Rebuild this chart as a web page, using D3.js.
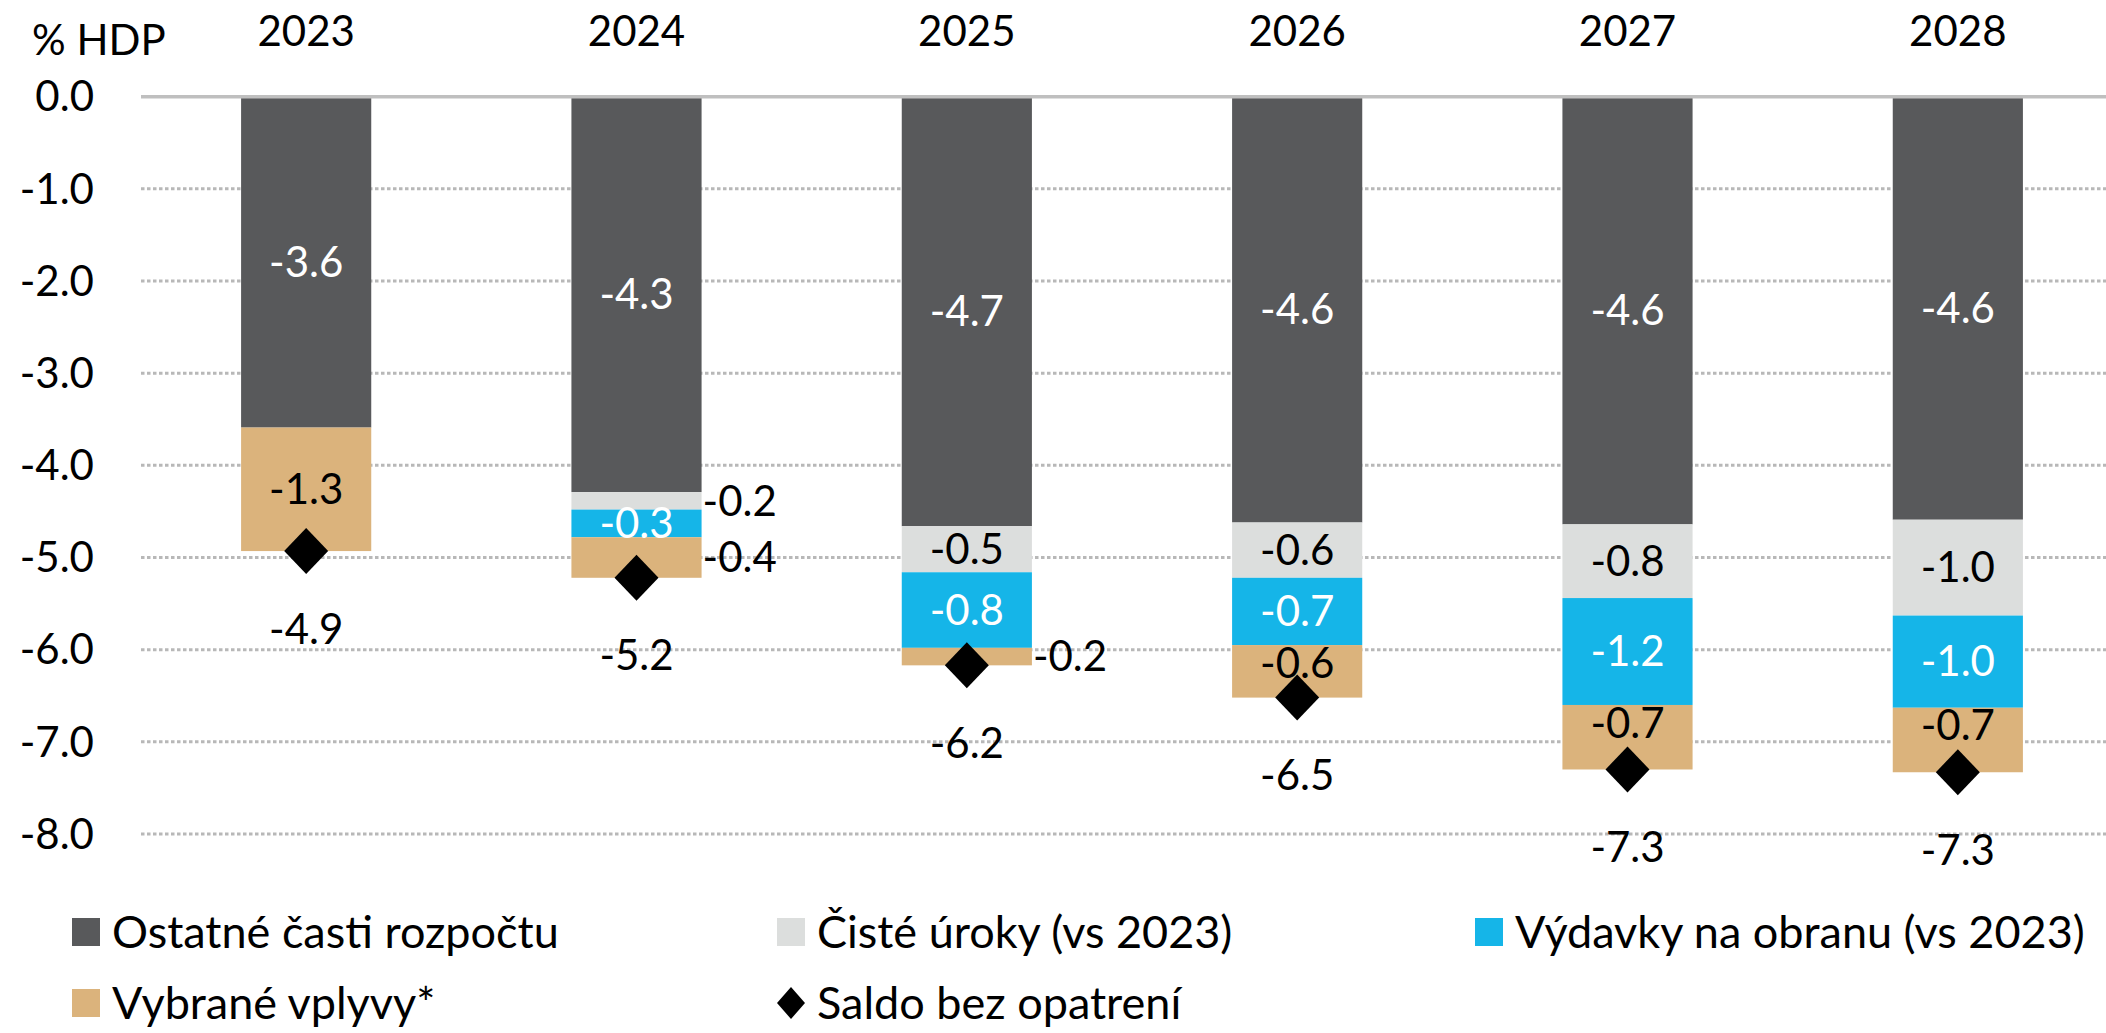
<!DOCTYPE html>
<html>
<head>
<meta charset="utf-8">
<script src="https://cdn.jsdelivr.net/npm/d3@7"></script>
<style>
  body { margin: 0; background: #fff; }
  svg { display: block; font-family: Lato, "Open Sans", sans-serif; }
</style>
</head>
<body>
<div id="chart"></div>
<script>
// years on the top axis
var years = ['2023', '2024', '2025', '2026', '2027', '2028'];

// stacked components, % of GDP
var ostatne = [-3.59, -4.29, -4.66, -4.62, -4.64, -4.59];
var cisteUroky = [0, -0.19, -0.50, -0.60, -0.80, -1.04];
var obrana = [0, -0.30, -0.82, -0.73, -1.16, -1.00];
var vybrane = [-1.34, -0.44, -0.19, -0.57, -0.70, -0.70];

// balance without measures (diamonds)
var saldo = [-4.93, -5.22, -6.17, -6.52, -7.30, -7.33];

var yTicks = [0, -1, -2, -3, -4, -5, -6, -7, -8];

var seriesNames = ['Ostatné časti rozpočtu', 'Čisté úroky (vs 2023)', 'Výdavky na obranu (vs 2023)', 'Vybrané vplyvy*'];
var saldoName = 'Saldo bez opatrení';

var keys = ['ostatne', 'uroky', 'obrana', 'vybrane'];
var colors = { ostatne: '#58595b', uroky: '#dcdedd', obrana: '#15b5e8', vybrane: '#dbb37c' };
var textColors = { ostatne: '#fff', uroky: '#000', obrana: '#fff', vybrane: '#000' };

var width = 2106, height = 1033;
var fs = 42, legendFs = 45;

var rows = years.map(function(y, i) {
  return { year: y, ostatne: ostatne[i], uroky: cisteUroky[i], obrana: obrana[i], vybrane: vybrane[i], saldo: saldo[i] };
});

var svg = d3.select('#chart').append('svg')
  .attr('width', width).attr('height', height);

var x = d3.scaleBand().domain(years).range([141, 2123]).paddingInner(0.606).paddingOuter(0.303);
var y = d3.scaleLinear().domain([0, -8]).range([96.7, 834]);

// gridlines (dotted)
svg.append('g').selectAll('line').data(yTicks.slice(1)).enter().append('line')
  .attr('x1', 141).attr('x2', width)
  .attr('y1', function(d) { return y(d); }).attr('y2', function(d) { return y(d); })
  .attr('stroke', '#b8b8b8').attr('stroke-width', 3).attr('stroke-dasharray', '3.5,2.5');

// y tick labels
svg.append('g').selectAll('text').data(yTicks).enter().append('text')
  .attr('x', 94).attr('y', function(d) { return y(d); })
  .attr('dy', '0.35em').attr('text-anchor', 'end')
  .attr('font-size', fs).attr('fill', '#000')
  .text(function(d) { return d.toFixed(1); });

svg.append('text').attr('x', 32).attr('y', 40).attr('dy', '0.35em')
  .attr('font-size', fs).text('% HDP');

// year labels on top
svg.append('g').selectAll('text').data(years).enter().append('text')
  .attr('x', function(d) { return x(d) + x.bandwidth() / 2; })
  .attr('y', 31).attr('dy', '0.35em').attr('text-anchor', 'middle')
  .attr('font-size', fs).text(function(d) { return d; });

var stack = d3.stack().keys(keys).offset(d3.stackOffsetDiverging);
var layers = stack(rows);

var layer = svg.append('g').selectAll('g').data(layers).enter().append('g')
  .attr('fill', function(d) { return colors[d.key]; });

// negative stacks: d[1] is the upper edge, d[0] the lower one
layer.selectAll('rect').data(function(d) { return d; }).enter().append('rect')
  .attr('x', function(d) { return x(d.data.year); })
  .attr('width', x.bandwidth())
  .attr('y', function(d) { return y(d[1]); })
  .attr('height', function(d) { return y(d[0]) - y(d[1]); });

// zero line
svg.append('line').attr('x1', 141).attr('x2', width)
  .attr('y1', y(0)).attr('y2', y(0))
  .attr('stroke', '#bfbfbf').attr('stroke-width', 3.5);

// segment labels
layers.forEach(function(l) {
  l.forEach(function(d) {
    var v = d.data[l.key];
    if (v === 0) return;
    var top = y(d[1]), bot = y(d[0]);
    var cx = x(d.data.year) + x.bandwidth() / 2;
    var ly = (top + bot) / 2;
    var anchor = 'middle', fill = textColors[l.key];
    if (l.key !== 'obrana' && l.key !== 'ostatne' && Math.abs(v) < 0.5) {
      // too thin: put the label right of the bar
      cx = x(d.data.year) + x.bandwidth() + 1;
      anchor = 'start';
      fill = '#000';
    } else if (l.key === 'vybrane' && Math.abs(v) < 1) {
      // keep clear of the diamond
      ly = top + 18;
    }
    svg.append('text').attr('x', cx).attr('y', ly).attr('dy', '0.35em')
      .attr('text-anchor', anchor).attr('font-size', fs).attr('fill', fill)
      .text(v.toFixed(1));
  });
});

// saldo diamonds
var diamond = function(w, h) { return 'M0,' + (-h / 2) + 'L' + (w / 2) + ',0L0,' + (h / 2) + 'L' + (-w / 2) + ',0Z'; };

svg.append('g').selectAll('path').data(rows).enter().append('path')
  .attr('transform', function(d) { return 'translate(' + (x(d.year) + x.bandwidth() / 2) + ',' + y(d.saldo) + ')'; })
  .attr('d', diamond(44, 46)).attr('fill', '#000');

svg.append('g').selectAll('text').data(rows).enter().append('text')
  .attr('x', function(d) { return x(d.year) + x.bandwidth() / 2; })
  .attr('y', function(d) { return y(d.saldo) + 78; })
  .attr('dy', '0.35em').attr('text-anchor', 'middle').attr('font-size', fs)
  .text(function(d) { return d.saldo.toFixed(1); });

// legend
var legendPos = [[72, 932], [777, 932], [1475, 932], [72, 1003]];
seriesNames.forEach(function(name, i) {
  var g = svg.append('g').attr('transform', 'translate(' + legendPos[i][0] + ',' + legendPos[i][1] + ')');
  g.append('rect').attr('x', 0).attr('y', -14).attr('width', 28).attr('height', 28).attr('fill', colors[keys[i]]);
  g.append('text').attr('x', 40).attr('y', 0).attr('dy', '0.35em').attr('font-size', legendFs).text(name);
});
var sg = svg.append('g').attr('transform', 'translate(777,1003)');
sg.append('path').attr('transform', 'translate(14,0)').attr('d', diamond(28, 32)).attr('fill', '#000');
sg.append('text').attr('x', 40).attr('y', 0).attr('dy', '0.35em').attr('font-size', legendFs).text(saldoName);
</script>
</body>
</html>
